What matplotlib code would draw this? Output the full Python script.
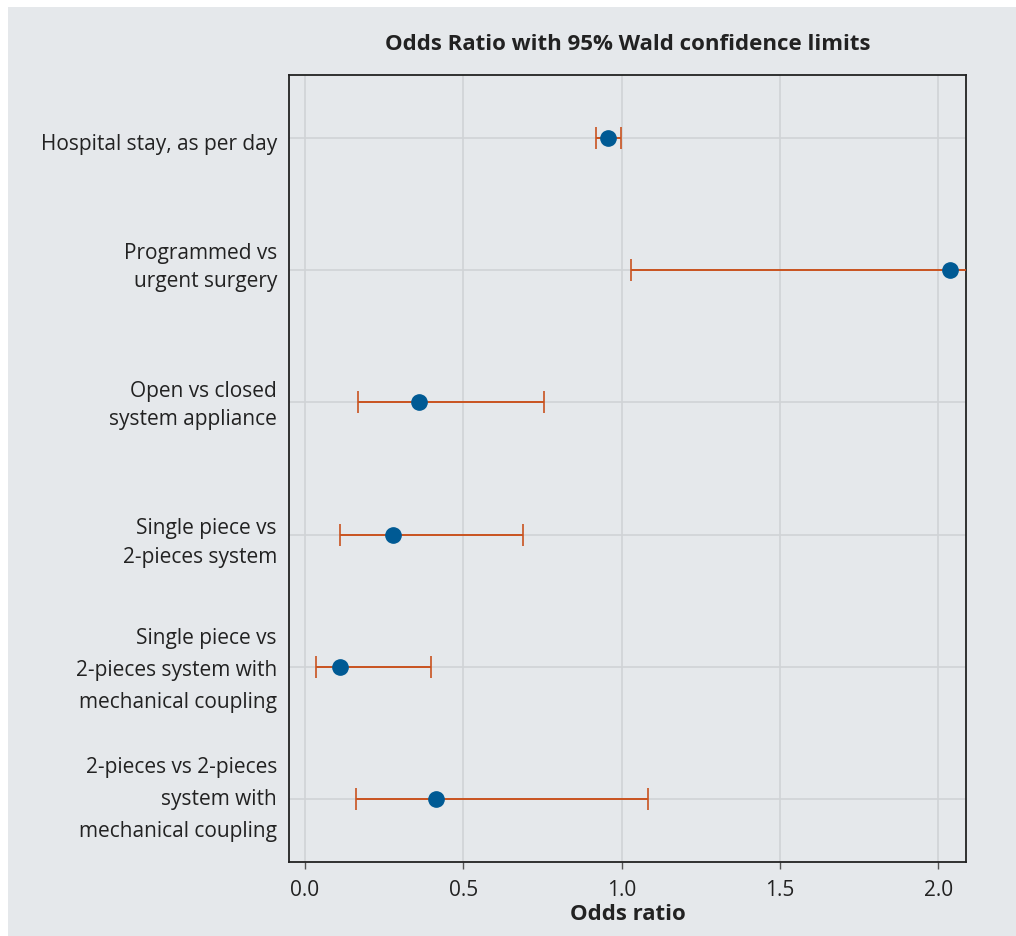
import numpy as np
import matplotlib.pyplot as plt
import matplotlib.transforms as mtransforms
from matplotlib.patches import Rectangle

plt.rcParams['font.family'] = ['Open Sans', 'DejaVu Sans']

# data
labels = ['Hospital stay, as per day',
          'Programmed vs\nurgent surgery',
          'Open vs closed\nsystem appliance',
          'Single piece vs\n2-pieces system',
          'Single piece vs\n2-pieces system with\nmechanical coupling',
          '2-pieces vs 2-pieces\nsystem with\nmechanical coupling']
odds = np.array([0.957, 2.037, 0.360, 0.278, 0.110, 0.414])
lower = np.array([0.918, 1.029, 0.167, 0.110, 0.035, 0.161])
upper = np.array([0.999, 4.030, 0.755, 0.688, 0.398, 1.083])
xticks = [0.0, 0.5, 1.0, 1.5, 2.0]

# label placement: baseline of last line relative to its row, in px (down is +)
label_shift = [12, 17, 23, 28, 41, 38]

bg = '#e5e8eb'
fig = plt.figure(figsize=(10.16, 9.36), dpi=100, facecolor=bg)
# thin white strips on top and left edge
fig.add_artist(Rectangle((0, 0), 8/1016, 1, transform=fig.transFigure,
                         facecolor='white', edgecolor='none', zorder=-10))
fig.add_artist(Rectangle((0, 1 - 7/936), 1, 7/936, transform=fig.transFigure,
                         facecolor='white', edgecolor='none', zorder=-10))

ax = fig.add_axes([289/1016, 1 - 862/936, (966-289)/1016, (862-75)/936])
ax.set_facecolor(bg)

y = np.arange(len(labels))
ax.errorbar(odds, y, xerr=[odds - lower, upper - odds], fmt='none',
            ecolor='#c9531f', elinewidth=1.4, capsize=8, capthick=1.2, zorder=3)
ax.plot(odds, y, 'o', color='#005a94', markersize=11, zorder=4)

ax.set_xlim(-0.05, 2.087)
ax.set_ylim(5.48, -0.48)
ax.set_yticks(y)
ax.set_yticklabels([''] * len(y))
for yi, lab, dy in zip(y, labels, label_shift):
    n = lab.count('\n') + 1
    tr = mtransforms.offset_copy(ax.get_yaxis_transform(), fig=fig,
                                 x=-12 * 0.72, y=-dy * 0.72, units='points')
    ax.text(0, yi, lab, transform=tr, ha='right', va='baseline', fontsize=15,
            color='#222222', linespacing=1.68 if n == 3 else 1.47, clip_on=False)

ax.set_xticks(xticks)
ax.set_xticklabels(['%.1f' % t for t in xticks], fontsize=15)
ax.tick_params(axis='y', length=0)
ax.tick_params(axis='x', length=5, width=1, color='#555555', pad=8, labelcolor='#222222')

ax.grid(True, color='#d0d3d6', linewidth=1.2, zorder=0)
ax.set_axisbelow(True)
for s in ax.spines.values():
    s.set_color('#222222')
    s.set_linewidth(1.3)

ax.set_title('Odds Ratio with 95% Wald confidence limits', fontsize=16,
             fontweight='bold', pad=18, color='#222222')
ax.set_xlabel('Odds ratio', fontsize=16, fontweight='bold', labelpad=2, color='#222222')

fig.savefig('out.png', dpi=100, facecolor=bg)
